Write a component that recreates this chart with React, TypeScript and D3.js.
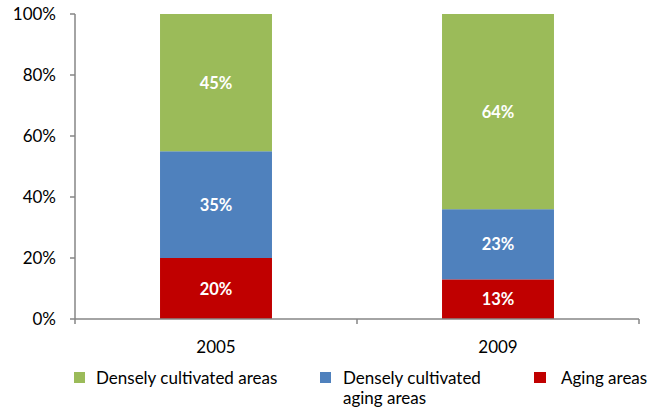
import React from "react";
import * as d3 from "d3";

const categories = ["2005", "2009"];
const seriesNames = ["Aging areas", "Densely cultivated aging areas", "Densely cultivated areas"];
const aging = [20, 13];
const denseAging = [35, 23];
const dense = [45, 64];
const colors = ["#C00000", "#4F81BD", "#9BBB59"];
const yTicks = [0, 20, 40, 60, 80, 100];

const W = 649, H = 409;
const font = "Lato, 'Open Sans', sans-serif";

export default function App() {
  const x = d3.scaleBand<string>().domain(categories).range([75, 639]).paddingInner(0.603).paddingOuter(0.3015);
  const y = d3.scaleLinear().domain([0, 100]).range([319, 14]);
  const rows = categories.map((c, i) => ({ cat: c, a: aging[i], b: denseAging[i], c: dense[i] }));
  const stack = d3.stack<any>().keys(["a", "b", "c"])(rows);
  const axisColor = "#868686";
  return (
    <svg width={W} height={H} style={{ position: "absolute", left: 0, top: 0 }}>
      {stack.map((layer, li) =>
        layer.map((d, i) => (
          <g key={`${li}-${i}`}>
            <rect x={x(categories[i])} y={y(d[1])} width={x.bandwidth()} height={y(d[0]) - y(d[1])} fill={colors[li]} />
            <text x={x(categories[i])! + x.bandwidth() / 2} y={(y(d[0]) + y(d[1])) / 2 + 6} textAnchor="middle" fill="#fff" fontWeight="bold" fontSize={16.5} fontFamily={font}>
              {`${d[1] - d[0]}%`}
            </text>
          </g>
        ))
      )}
      <line x1={75} x2={75} y1={y(100)} y2={y(0)} stroke={axisColor} strokeWidth={1.5} />
      <line x1={75} x2={639} y1={y(0)} y2={y(0)} stroke={axisColor} strokeWidth={1.5} />
      {yTicks.map((t) => (
        <g key={t}>
          <line x1={70} x2={75} y1={y(t)} y2={y(t)} stroke={axisColor} strokeWidth={1.5} />
          <text x={56} y={y(t) + 6} textAnchor="end" fontSize={17} fontFamily={font} fill="#000">{`${t}%`}</text>
        </g>
      ))}
      {[75, 357, 639].map((tx) => (
        <line key={tx} x1={tx} x2={tx} y1={319} y2={324} stroke={axisColor} strokeWidth={1.5} />
      ))}
      {categories.map((c) => (
        <text key={c} x={x(c)! + x.bandwidth() / 2} y={353} textAnchor="middle" fontSize={17} fontFamily={font} fill="#000">{c}</text>
      ))}
      <g fontSize={17} fontFamily={font} fill="#000">
        <rect x={74} y={372} width={11} height={11} fill={colors[2]} />
        <text x={96} y={384}>{seriesNames[2]}</text>
        <rect x={320} y={372} width={11} height={11} fill={colors[1]} />
        <text x={343} y={384}>Densely cultivated</text>
        <text x={343} y={404}>aging areas</text>
        <rect x={534} y={372} width={12} height={11} fill={colors[0]} />
        <text x={561} y={384}>{seriesNames[0]}</text>
      </g>
    </svg>
  );
}
